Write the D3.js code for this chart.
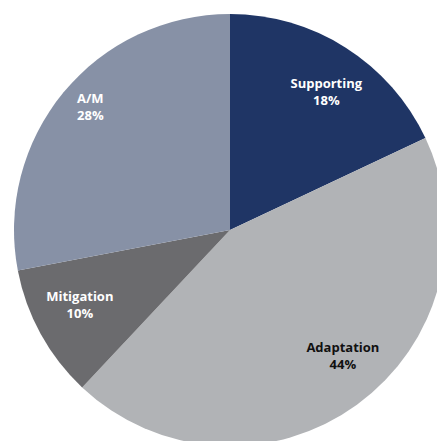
<!DOCTYPE html>
<html>
<head>
<meta charset="utf-8">
<script src="https://cdn.jsdelivr.net/npm/d3@7"></script>
<style>
  html, body { margin: 0; padding: 0; background: #ffffff; }
  svg { display: block; }
  .lbl { font-family: "Open Sans", "Noto Sans", sans-serif; font-weight: 700; font-size: 13px; }
</style>
</head>
<body>
<svg id="chart" width="437" height="441"></svg>
<script>
// Share of funding by category
const categories = ["Supporting", "Adaptation", "Mitigation", "A/M"];
const shares = [18, 44, 10, 28];
const shareLabels = ["18%", "44%", "10%", "28%"];

const colors = ["#1f3565", "#b1b3b6", "#6b6b6e", "#8791a6"];
const textColors = ["#ffffff", "#111111", "#ffffff", "#ffffff"];
// radial distance / angular nudge (radians) for each label
const labelRadius = [168, 169, 168, 186];
const labelNudge = [0.045, -0.103, 0.038, 0.03];

const svg = d3.select("#chart");
const cx = 230, cy = 230, R = 216;

const pie = d3.pie().sort(null).value(d => d);
const arcs = pie(shares);
const arc = d3.arc().innerRadius(0).outerRadius(R);

const g = svg.append("g").attr("transform", `translate(${cx},${cy})`);

g.selectAll("path.slice")
  .data(arcs)
  .join("path")
  .attr("class", "slice")
  .attr("d", arc)
  .attr("fill", (d, i) => colors[i]);

const labels = g.selectAll("text.lbl")
  .data(arcs)
  .join("text")
  .attr("class", "lbl")
  .attr("text-anchor", "middle")
  .attr("fill", (d, i) => textColors[i])
  .attr("transform", (d, i) => {
    const a = (d.startAngle + d.endAngle) / 2 + labelNudge[i];
    const r = labelRadius[i];
    return `translate(${r * Math.sin(a)},${-r * Math.cos(a)})`;
  });

labels.append("tspan")
  .attr("x", 0)
  .attr("y", -4)
  .text((d, i) => categories[i]);

labels.append("tspan")
  .attr("x", 0)
  .attr("y", 13)
  .text((d, i) => shareLabels[i]);
</script>
</body>
</html>
